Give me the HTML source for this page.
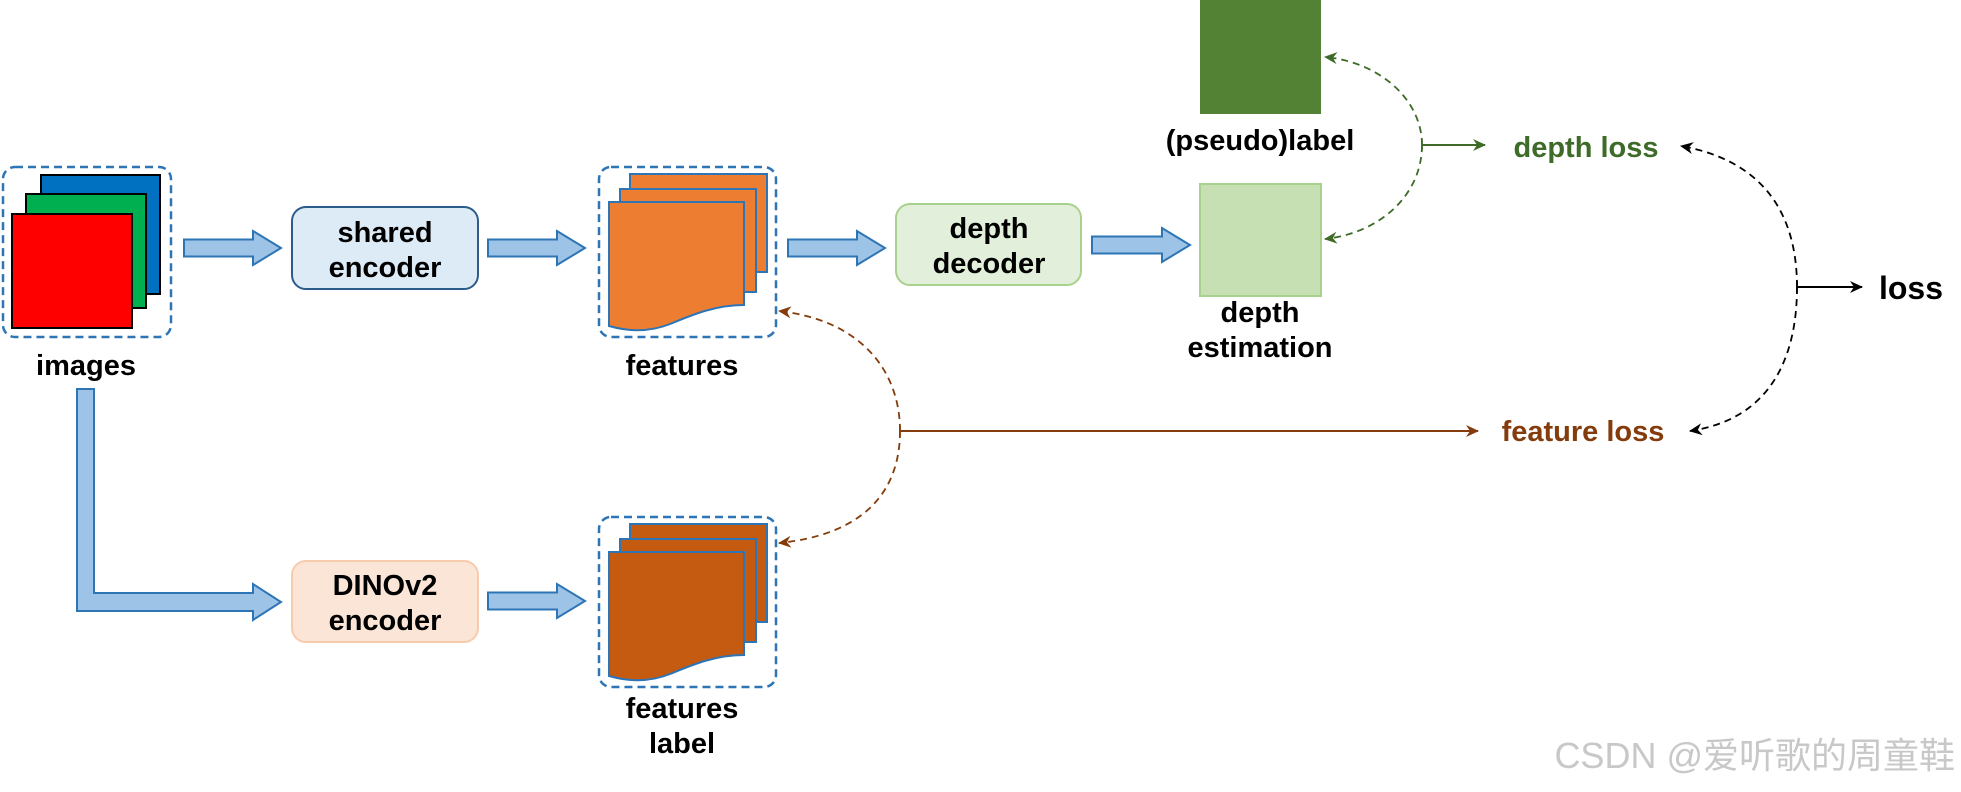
<!DOCTYPE html>
<html><head><meta charset="utf-8"><style>
html,body{margin:0;padding:0;background:#fff;}
svg{display:block;}
text{font-family:"Liberation Sans",Arial,sans-serif;font-weight:bold;}
</style></head><body>
<svg width="1961" height="792" viewBox="0 0 1961 792" xmlns="http://www.w3.org/2000/svg">
<defs>
<marker id="ag" markerWidth="13" markerHeight="12" refX="12" refY="6" orient="auto" markerUnits="userSpaceOnUse"><path d="M0,0 L13,6 L0,12 L4,6 Z" fill="#3e6b27"/></marker>
<marker id="ak" markerWidth="13" markerHeight="12" refX="12" refY="6" orient="auto" markerUnits="userSpaceOnUse"><path d="M0,0 L13,6 L0,12 L4,6 Z" fill="#000"/></marker>
<marker id="ab" markerWidth="13" markerHeight="12" refX="12" refY="6" orient="auto" markerUnits="userSpaceOnUse"><path d="M0,0 L13,6 L0,12 L4,6 Z" fill="#843c0c"/></marker>
<g id="pages">
<rect x="630" y="174" width="137" height="98"/>
<rect x="620" y="189" width="136" height="103"/>
<path d="M609,202 H744 V305 C715,305 692,315 670,324 C650,332 630,332 609,326 Z"/>
</g>
</defs>

<rect x="3" y="167" width="168" height="170" rx="12" fill="none" stroke="#2e75b6" stroke-width="2.5" stroke-dasharray="8,5"/>
<rect x="41" y="175" width="119" height="119" fill="#0070c0" stroke="#000" stroke-width="2"/>
<rect x="26" y="194" width="120" height="114" fill="#00b050" stroke="#000" stroke-width="2"/>
<rect x="12" y="214" width="120" height="114" fill="#ff0000" stroke="#000" stroke-width="2"/>
<text x="86" y="375" font-size="29" text-anchor="middle">images</text>

<g fill="#9dc3e6" stroke="#2e75b6" stroke-width="2">
<path d="M184,239.5 H253 V231 L281,248 L253,265 V256.5 H184 Z"/>
<path d="M488,239.5 H557 V231 L585,248 L557,265 V256.5 H488 Z"/>
<path d="M788,239.5 H857 V231 L885,248 L857,265 V256.5 H788 Z"/>
<path d="M1092,236.5 H1162 V228 L1190,245 L1162,262 V253.5 H1092 Z"/>
<path d="M488,592.5 H557 V584 L585,601 L557,618 V609.5 H488 Z"/>
<path d="M77,389 H94 V593 H253 V584 L281,602 L253,620 V611 H77 Z"/>
</g>

<rect x="292" y="207" width="186" height="82" rx="14" fill="#ddebf7" stroke="#2e5c8a" stroke-width="2"/>
<text x="385" y="242" font-size="29" text-anchor="middle">shared</text>
<text x="385" y="277" font-size="29" text-anchor="middle">encoder</text>

<rect x="599" y="167" width="177" height="170" rx="12" fill="none" stroke="#2e75b6" stroke-width="2.5" stroke-dasharray="8,5"/>
<use href="#pages" fill="#ed7d31" stroke="#2e75b6" stroke-width="2"/>
<text x="682" y="375" font-size="29" text-anchor="middle">features</text>

<rect x="896" y="204" width="185" height="81" rx="14" fill="#e2efda" stroke="#a9d18e" stroke-width="2"/>
<text x="989" y="238" font-size="29" text-anchor="middle">depth</text>
<text x="989" y="273" font-size="29" text-anchor="middle">decoder</text>

<rect x="1200" y="184" width="121" height="112" fill="#c6e0b4" stroke="#a9d18e" stroke-width="2"/>
<rect x="1200" y="0" width="121" height="114" fill="#548235"/>
<text x="1260" y="150" font-size="29" text-anchor="middle">(pseudo)label</text>
<text x="1260" y="322" font-size="29" text-anchor="middle">depth</text>
<text x="1260" y="357" font-size="29" text-anchor="middle">estimation</text>

<path d="M1422,145 C1422,100 1380,62 1325,57" fill="none" stroke="#3e6b27" stroke-width="1.8" stroke-dasharray="7,5" marker-end="url(#ag)"/>
<path d="M1422,145 C1422,195 1380,233 1325,239" fill="none" stroke="#3e6b27" stroke-width="1.8" stroke-dasharray="7,5" marker-end="url(#ag)"/>
<line x1="1422" y1="145" x2="1485" y2="145" stroke="#3e6b27" stroke-width="2" marker-end="url(#ag)"/>
<line x1="1422" y1="139" x2="1422" y2="151" stroke="#3e6b27" stroke-width="1.5"/>
<text x="1586" y="157" font-size="29" fill="#3e6b27" text-anchor="middle">depth loss</text>

<path d="M1797,287 C1797,210 1760,160 1681,146" fill="none" stroke="#000" stroke-width="1.8" stroke-dasharray="7,5" marker-end="url(#ak)"/>
<path d="M1797,287 C1797,365 1765,420 1690,431" fill="none" stroke="#000" stroke-width="1.8" stroke-dasharray="7,5" marker-end="url(#ak)"/>
<line x1="1797" y1="287" x2="1862" y2="287" stroke="#000" stroke-width="2" marker-end="url(#ak)"/>
<line x1="1797" y1="281" x2="1797" y2="293" stroke="#000" stroke-width="1.5"/>
<text x="1911" y="299" font-size="32" text-anchor="middle">loss</text>

<path d="M900,431 C900,370 860,320 779,311" fill="none" stroke="#843c0c" stroke-width="1.8" stroke-dasharray="7,5" marker-end="url(#ab)"/>
<path d="M900,431 C900,495 860,535 779,543" fill="none" stroke="#843c0c" stroke-width="1.8" stroke-dasharray="7,5" marker-end="url(#ab)"/>
<line x1="900" y1="431" x2="1478" y2="431" stroke="#843c0c" stroke-width="2" marker-end="url(#ab)"/>
<line x1="900" y1="425" x2="900" y2="437" stroke="#843c0c" stroke-width="1.5"/>
<text x="1583" y="441" font-size="29" fill="#843c0c" text-anchor="middle">feature loss</text>

<rect x="292" y="561" width="186" height="81" rx="14" fill="#fbe5d6" stroke="#f8cbad" stroke-width="2"/>
<text x="385" y="595" font-size="29" text-anchor="middle">DINOv2</text>
<text x="385" y="630" font-size="29" text-anchor="middle">encoder</text>

<rect x="599" y="517" width="177" height="170" rx="12" fill="none" stroke="#2e75b6" stroke-width="2.5" stroke-dasharray="8,5"/>
<use href="#pages" transform="translate(0,350)" fill="#c55a11" stroke="#2e75b6" stroke-width="2"/>
<text x="682" y="718" font-size="29" text-anchor="middle">features</text>
<text x="682" y="753" font-size="29" text-anchor="middle">label</text>

<text x="1955" y="768" font-size="36" fill="#c8c8c8" text-anchor="end" style="font-weight:normal;font-family:'Liberation Sans','Noto Sans CJK SC',sans-serif">CSDN @爱听歌的周童鞋</text>
</svg>
</body></html>
